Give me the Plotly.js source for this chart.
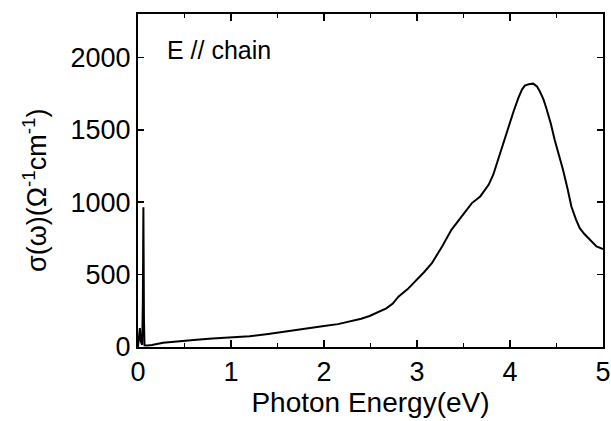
<!DOCTYPE html>
<html>
<head>
<meta charset="utf-8">
<script src="https://cdn.plot.ly/plotly-3.0.1.min.js"></script>
<style>html,body{margin:0;padding:0;background:#fff;}#chart{width:611px;height:421px;}</style>
</head>
<body>
<div id="chart"></div>
<script>
// Photon energy (eV)
const energy = [0.0, 0.01, 0.02, 0.03, 0.045, 0.052, 0.058, 0.064, 0.07, 0.1, 0.15, 0.27, 0.45, 0.63, 0.8, 1.0, 1.2, 1.4, 1.56, 1.8, 2.0, 2.15, 2.28, 2.4, 2.49, 2.58, 2.67, 2.74, 2.80, 2.9, 2.98, 3.08, 3.16, 3.27, 3.37, 3.48, 3.59, 3.68, 3.77, 3.82, 3.86, 3.92, 3.98, 4.04, 4.09, 4.13, 4.16, 4.2, 4.25, 4.29, 4.32, 4.36, 4.39, 4.44, 4.48, 4.53, 4.57, 4.62, 4.66, 4.71, 4.75, 4.8, 4.84, 4.88, 4.93, 5.0];
// Optical conductivity sigma (Ohm^-1 cm^-1)
const sigma = [0, 60, 130, 40, 15, 300, 965, 200, 12, 10, 14, 30, 42, 50, 58, 65, 74, 90, 106, 125, 145, 158, 175, 195, 214, 238, 267, 300, 348, 400, 452, 520, 579, 694, 809, 901, 994, 1040, 1120, 1190, 1270, 1400, 1524, 1630, 1720, 1780, 1805, 1815, 1819, 1800, 1766, 1710, 1651, 1540, 1432, 1320, 1224, 1090, 970, 880, 821, 780, 752, 725, 694, 676];

const xTickVals = [0, 1, 2, 3, 4, 5];
const yTickVals = [0, 500, 1000, 1500, 2000];
const annotationText = "E // chain";
const yTitleText = "σ(ω)(Ω<sup>-1</sup>cm<sup>-1</sup>)";

const FONT = "Liberation Sans, Arial, Helvetica, sans-serif";

const data = [{
  x: energy,
  y: sigma,
  type: 'scatter',
  mode: 'lines',
  line: {color: '#000', width: 2},
  hoverinfo: 'skip'
}];

const layout = {
  width: 611,
  height: 421,
  margin: {l: 138, r: 8, t: 14, b: 74},
  paper_bgcolor: '#fff',
  plot_bgcolor: '#fff',
  showlegend: false,
  font: {family: FONT, color: '#000'},
  xaxis: {
    range: [0, 5],
    tickvals: xTickVals,
    ticktext: xTickVals.map(String),
    ticks: 'inside',
    ticklen: 7,
    tickwidth: 1.5,
    tickcolor: '#000',
    minor: {dtick: 0.5, ticks: 'inside', ticklen: 4, tickwidth: 1.5, tickcolor: '#000', showgrid: false},
    showline: true,
    linecolor: '#000',
    linewidth: 2,
    mirror: 'ticks',
    showgrid: false,
    zeroline: false,
    tickfont: {size: 27, family: FONT},
    ticklabelstandoff: 0,
    title: {text: 'Photon Energy(eV)', font: {size: 28, family: FONT}, standoff: 4}
  },
  yaxis: {
    range: [0, 2300],
    tickvals: yTickVals,
    ticktext: yTickVals.map(String),
    ticks: 'inside',
    ticklen: 6,
    tickwidth: 1.5,
    tickcolor: '#000',
    showline: true,
    linecolor: '#000',
    linewidth: 2,
    mirror: 'ticks',
    showgrid: false,
    zeroline: false,
    tickfont: {size: 27, family: FONT}
  },
  annotations: [{
    xref: 'paper', yref: 'paper',
    x: 0.058, y: 0.892,
    xanchor: 'left', yanchor: 'middle',
    text: annotationText,
    showarrow: false,
    font: {size: 25, family: FONT, color: '#000'}
  }, {
    xref: 'paper', yref: 'paper',
    x: -0.2215, y: 0.4715,
    xanchor: 'center', yanchor: 'middle',
    textangle: -90,
    text: yTitleText,
    showarrow: false,
    font: {size: 27, family: FONT, color: '#000'}
  }]
};

Plotly.newPlot('chart', data, layout, {displayModeBar: false, staticPlot: true});
</script>
</body>
</html>
